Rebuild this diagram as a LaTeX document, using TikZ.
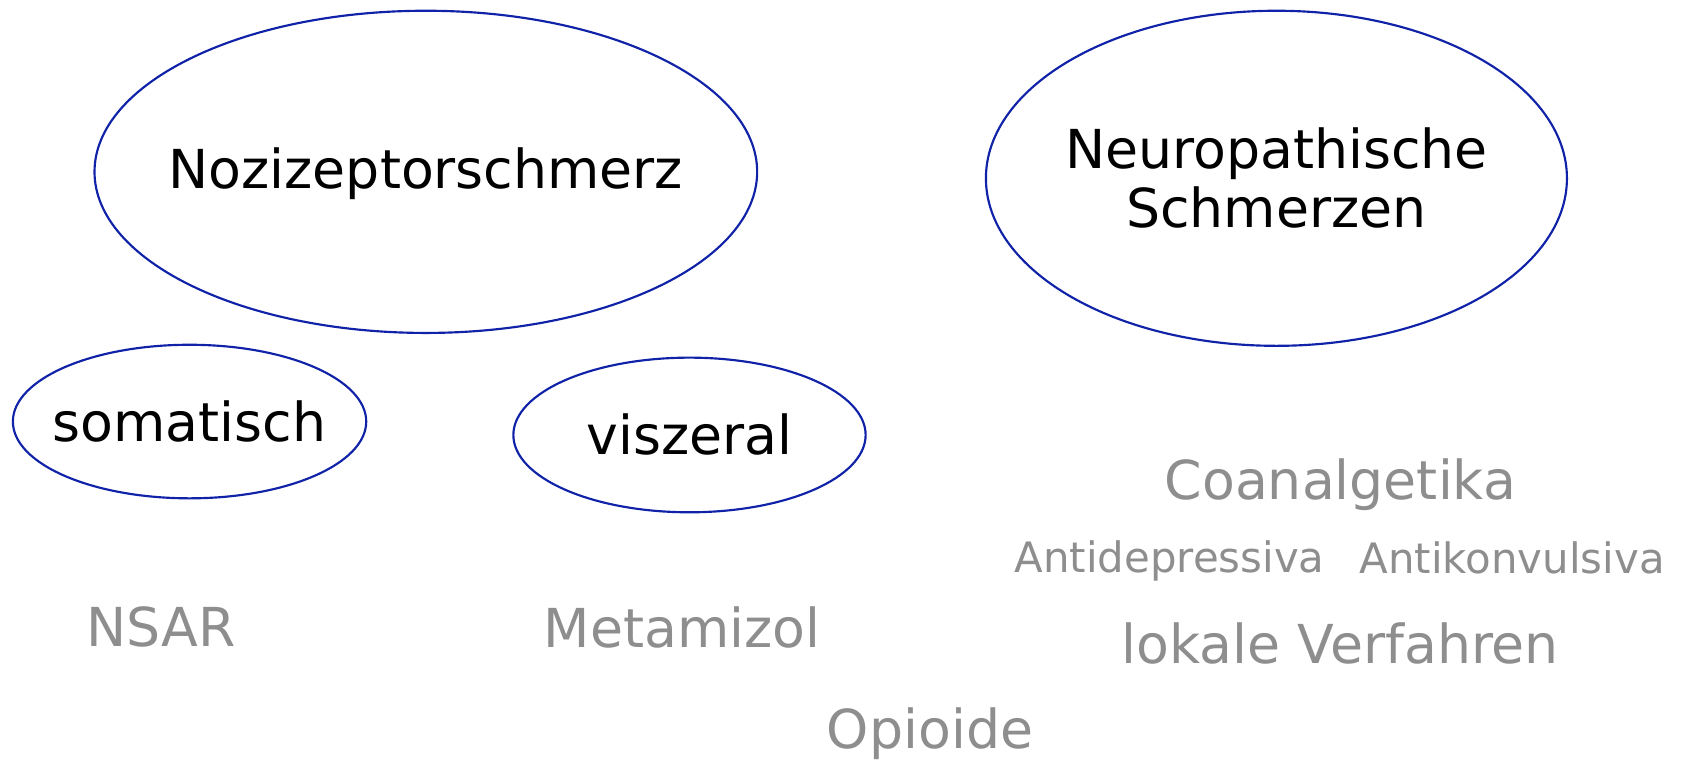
\documentclass[tikz,border=0pt]{standalone}
\usepackage{fontspec}
\setmainfont{DejaVu Sans}
\definecolor{ringblue}{HTML}{0F22A8}
\definecolor{druggray}{HTML}{8E8E8E}

\begin{document}
\begin{tikzpicture}[x=0.5pt, y=-0.5pt,
        label/.style={inner sep=0pt, align=center, font=\fontsize{25}{27.5}\selectfont},
        ring/.style={draw=ringblue, line width=1pt},
        drug/.style={text=druggray, inner sep=0pt, font=\fontsize{25}{30}\selectfont},
        subdrug/.style={text=druggray, inner sep=0pt, font=\fontsize{19.5}{24}\selectfont}]
        \useasboundingbox (0,0) rectangle (1568,707);

        % Pain types
        \node[label] (nozi) at (396.5,162) {Nozizeptorschmerz};
        \node[label] (neuro) at (1188.5,166) {Neuropathische\\Schmerzen};
        \node[label] (soma) at (176.5,392.5) {somatisch};
        \node[label] (visz) at (642,405) {viszeral};

        % Rings round them
        \draw[ring] (396.5,160) ellipse [x radius=154.25pt, y radius=75pt];
        \draw[ring] (neuro.center) ellipse [x radius=135.25pt, y radius=78pt];
        \draw[ring] (soma.center) ellipse [x radius=82.25pt, y radius=35.75pt];
        \draw[ring] (visz.center) ellipse [x radius=82pt, y radius=36pt];

        % Drugs
        \node[drug] (nsar) at (150,584) {NSAR};
        \node[drug] (metamizol) at (635,584) {Metamizol};
        \node[drug] (opioide) at (866,683) {Opioide};
        \node[drug] (coanalg) at (1248,451) {Coanalgetika};
        \node[subdrug] (antidep) at (1089,522) {Antidepressiva};
        \node[subdrug] (antikon) at (1408,519) {Antikonvulsiva};
        \node[drug] (lokal) at (1248,599) {lokale Verfahren};
\end{tikzpicture}
\end{document}
